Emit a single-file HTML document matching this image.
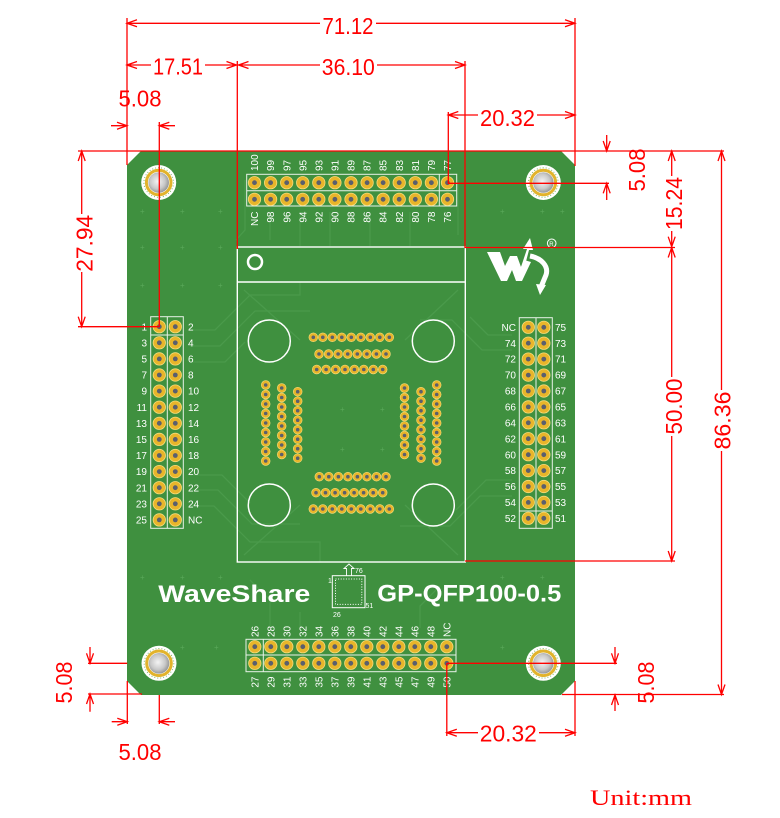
<!DOCTYPE html>
<html><head><meta charset="utf-8"><style>
html,body{margin:0;padding:0;background:#fff;}
svg{display:block;}
.pl{font-family:"Liberation Sans",sans-serif;font-size:10px;fill:#fff;}
.dt{font-family:"Liberation Sans",sans-serif;font-size:23px;fill:#f00;}
</style></head><body>
<svg width="780" height="818" viewBox="0 0 780 818" xmlns="http://www.w3.org/2000/svg">
<defs>
<radialGradient id="hg" cx="0.45" cy="0.45" r="0.6"><stop offset="0" stop-color="#f4f4f4"/><stop offset="0.6" stop-color="#c8c8c8"/><stop offset="1" stop-color="#8c8c8c"/></radialGradient>
<g id="hp"><circle r="6.2" fill="#e8b52a" stroke="#f7dc7c" stroke-width="0.8"/><circle r="2.4" fill="#5a5f6e"/></g>
<g id="sp"><circle r="4.4" fill="#e8b52a" stroke="#f7dc7c" stroke-width="0.6"/><circle r="1.8" fill="#5a5f6e"/></g>
<g id="mh"><circle r="17.5" fill="#fff"/><circle r="14.8" fill="none" stroke="#7fb86c" stroke-width="1" stroke-dasharray="1 2"/><circle r="12.3" fill="none" stroke="#e2b32c" stroke-width="3"/><circle r="10.3" fill="url(#hg)"/></g>
</defs>

<!-- board -->
<polygon points="141,151 561,151 575,165 575,681 561,695 141,695 127,681 127,165" fill="#3f903f"/>

<!-- faint traces -->
<g fill="none" stroke="#4a9a4b" stroke-width="1.3">
<path d="M190,330 H215 L250,295 H300 V282"/>
<path d="M190,346 H220 L255,311 H310"/>
<path d="M190,362 H225 L245,342"/>
<path d="M190,475 H222 L250,503"/>
<path d="M190,490 H218 L252,524 H300"/>
<path d="M190,506 H214 L250,542 H320 V562"/>
<path d="M512,335 H488 L470,317"/>
<path d="M512,350 H482 L452,320 H420"/>
<path d="M512,480 H486 L456,510"/>
<path d="M512,496 H480 L450,526 H400"/>
<path d="M270,212 V240 M300,212 V246 M330,212 V246 M370,212 V246 M410,212 V246"/>
<path d="M270,628 V600 L250,580 M300,628 V612 M420,628 V606 L440,586"/>
<path d="M244,290 L300,340 M458,290 L405,340 M244,555 L300,505 M458,555 L405,505"/>
<path d="M245,180 V230 L236,240 M458,180 V235"/>
</g>
<g fill="#5aa85a" font-family="Liberation Sans,sans-serif" font-size="8">
<text x="140" y="214">+</text><text x="180" y="214">+</text><text x="218" y="214">+</text>
<text x="140" y="250">+</text><text x="180" y="250">+</text><text x="218" y="250">+</text>
<text x="140" y="288">+</text><text x="180" y="288">+</text><text x="218" y="288">+</text>
<text x="500" y="214">+</text><text x="540" y="214">+</text><text x="560" y="214">+</text>
<text x="140" y="580">+</text><text x="180" y="580">+</text><text x="218" y="580">+</text>
<text x="500" y="580">+</text><text x="540" y="580">+</text>
<text x="214" y="650">+</text><text x="180" y="650">+</text><text x="500" y="650">+</text>
<text x="340" y="412">+</text><text x="380" y="412">+</text><text x="340" y="452">+</text><text x="380" y="452">+</text>
</g>

<!-- mounting holes -->
<use href="#mh" x="158.7" y="182.5"/>
<use href="#mh" x="543.3" y="182.5"/>
<use href="#mh" x="159" y="663.3"/>
<use href="#mh" x="543.3" y="663.3"/>

<!-- socket outline -->
<g fill="none" stroke="#fff">
<rect x="237.3" y="247" width="228" height="315" stroke-width="1.4"/>
<line x1="237.3" y1="282" x2="465.3" y2="282" stroke-width="1.4"/>
<circle cx="255" cy="262" r="7" stroke-width="2.5"/>
<circle cx="269.3" cy="341" r="21" stroke-width="1.5"/>
<circle cx="433.3" cy="341" r="21" stroke-width="1.5"/>
<circle cx="269.3" cy="505" r="21" stroke-width="1.5"/>
<circle cx="433.3" cy="505" r="21" stroke-width="1.5"/>
</g>

<!-- socket pads -->
<g>
<use href="#sp" x="313.3" y="337.3"/><use href="#sp" x="322.8" y="337.3"/><use href="#sp" x="332.3" y="337.3"/><use href="#sp" x="341.8" y="337.3"/><use href="#sp" x="351.3" y="337.3"/><use href="#sp" x="360.8" y="337.3"/><use href="#sp" x="370.3" y="337.3"/><use href="#sp" x="379.8" y="337.3"/><use href="#sp" x="389.3" y="337.3"/>
<use href="#sp" x="319" y="354"/><use href="#sp" x="328.6" y="354"/><use href="#sp" x="338.1" y="354"/><use href="#sp" x="347.7" y="354"/><use href="#sp" x="357.3" y="354"/><use href="#sp" x="366.9" y="354"/><use href="#sp" x="376.4" y="354"/><use href="#sp" x="386" y="354"/>
<use href="#sp" x="316.7" y="369.5"/><use href="#sp" x="326.1" y="369.5"/><use href="#sp" x="335.6" y="369.5"/><use href="#sp" x="345" y="369.5"/><use href="#sp" x="354.4" y="369.5"/><use href="#sp" x="363.8" y="369.5"/><use href="#sp" x="373.3" y="369.5"/><use href="#sp" x="382.7" y="369.5"/>
<use href="#sp" x="319.3" y="476.7"/><use href="#sp" x="328.8" y="476.7"/><use href="#sp" x="338.4" y="476.7"/><use href="#sp" x="347.9" y="476.7"/><use href="#sp" x="357.4" y="476.7"/><use href="#sp" x="366.9" y="476.7"/><use href="#sp" x="376.5" y="476.7"/><use href="#sp" x="386" y="476.7"/>
<use href="#sp" x="316" y="492.7"/><use href="#sp" x="325.5" y="492.7"/><use href="#sp" x="335.1" y="492.7"/><use href="#sp" x="344.6" y="492.7"/><use href="#sp" x="354.1" y="492.7"/><use href="#sp" x="363.6" y="492.7"/><use href="#sp" x="373.2" y="492.7"/><use href="#sp" x="382.7" y="492.7"/>
<use href="#sp" x="313.3" y="509"/><use href="#sp" x="322.8" y="509"/><use href="#sp" x="332.3" y="509"/><use href="#sp" x="341.8" y="509"/><use href="#sp" x="351.3" y="509"/><use href="#sp" x="360.8" y="509"/><use href="#sp" x="370.3" y="509"/><use href="#sp" x="379.8" y="509"/><use href="#sp" x="389.3" y="509"/>
<use href="#sp" x="265.7" y="385"/><use href="#sp" x="265.7" y="394.5"/><use href="#sp" x="265.7" y="404"/><use href="#sp" x="265.7" y="413.5"/><use href="#sp" x="265.7" y="423"/><use href="#sp" x="265.7" y="432.5"/><use href="#sp" x="265.7" y="442"/><use href="#sp" x="265.7" y="451.5"/><use href="#sp" x="265.7" y="461"/>
<use href="#sp" x="281.7" y="388"/><use href="#sp" x="281.7" y="397.5"/><use href="#sp" x="281.7" y="407"/><use href="#sp" x="281.7" y="416.5"/><use href="#sp" x="281.7" y="426"/><use href="#sp" x="281.7" y="435.5"/><use href="#sp" x="281.7" y="445"/><use href="#sp" x="281.7" y="454.5"/>
<use href="#sp" x="297.7" y="391.7"/><use href="#sp" x="297.7" y="401.2"/><use href="#sp" x="297.7" y="410.7"/><use href="#sp" x="297.7" y="420.2"/><use href="#sp" x="297.7" y="429.7"/><use href="#sp" x="297.7" y="439.2"/><use href="#sp" x="297.7" y="448.7"/><use href="#sp" x="297.7" y="458.2"/>
<use href="#sp" x="404.5" y="388"/><use href="#sp" x="404.5" y="397.5"/><use href="#sp" x="404.5" y="407"/><use href="#sp" x="404.5" y="416.5"/><use href="#sp" x="404.5" y="426"/><use href="#sp" x="404.5" y="435.5"/><use href="#sp" x="404.5" y="445"/><use href="#sp" x="404.5" y="454.5"/>
<use href="#sp" x="421" y="391.7"/><use href="#sp" x="421" y="401.2"/><use href="#sp" x="421" y="410.7"/><use href="#sp" x="421" y="420.2"/><use href="#sp" x="421" y="429.7"/><use href="#sp" x="421" y="439.2"/><use href="#sp" x="421" y="448.7"/><use href="#sp" x="421" y="458.2"/>
<use href="#sp" x="436.7" y="385"/><use href="#sp" x="436.7" y="394.5"/><use href="#sp" x="436.7" y="404"/><use href="#sp" x="436.7" y="413.5"/><use href="#sp" x="436.7" y="423"/><use href="#sp" x="436.7" y="432.5"/><use href="#sp" x="436.7" y="442"/><use href="#sp" x="436.7" y="451.5"/><use href="#sp" x="436.7" y="461"/>
</g>

<!-- header outlines -->
<g fill="none" stroke="#e8f2e8" stroke-width="1">
<rect x="246.7" y="174.3" width="210" height="31.7"/><line x1="439.3" y1="174.3" x2="439.3" y2="206"/><line x1="246.7" y1="190.7" x2="456.7" y2="190.7"/>
<rect x="246" y="639.3" width="210" height="32.4"/><line x1="263.3" y1="639.3" x2="263.3" y2="671.7"/><line x1="246" y1="655" x2="456" y2="655"/>
<rect x="150.7" y="316.7" width="32.6" height="211.6"/><line x1="167.3" y1="316.7" x2="167.3" y2="528.3"/><line x1="150.7" y1="335" x2="183.3" y2="335"/>
<rect x="519.3" y="317.7" width="33" height="210.6"/><line x1="536" y1="317.7" x2="536" y2="528.3"/><line x1="519.3" y1="511" x2="552.3" y2="511"/>
</g>

<!-- top header pins -->
<g>
<use href="#hp" x="254.5" y="182.7"/><use href="#hp" x="270.6" y="182.7"/><use href="#hp" x="286.7" y="182.7"/><use href="#hp" x="302.7" y="182.7"/><use href="#hp" x="318.8" y="182.7"/><use href="#hp" x="334.9" y="182.7"/><use href="#hp" x="351" y="182.7"/><use href="#hp" x="367.1" y="182.7"/><use href="#hp" x="383.1" y="182.7"/><use href="#hp" x="399.2" y="182.7"/><use href="#hp" x="415.3" y="182.7"/><use href="#hp" x="431.4" y="182.7"/><use href="#hp" x="447.5" y="182.7"/>
<use href="#hp" x="254.5" y="199.3"/><use href="#hp" x="270.6" y="199.3"/><use href="#hp" x="286.7" y="199.3"/><use href="#hp" x="302.7" y="199.3"/><use href="#hp" x="318.8" y="199.3"/><use href="#hp" x="334.9" y="199.3"/><use href="#hp" x="351" y="199.3"/><use href="#hp" x="367.1" y="199.3"/><use href="#hp" x="383.1" y="199.3"/><use href="#hp" x="399.2" y="199.3"/><use href="#hp" x="415.3" y="199.3"/><use href="#hp" x="431.4" y="199.3"/><use href="#hp" x="447.5" y="199.3"/>
</g>
<!-- bottom header pins -->
<g>
<use href="#hp" x="254.8" y="646.7"/><use href="#hp" x="270.8" y="646.7"/><use href="#hp" x="286.8" y="646.7"/><use href="#hp" x="302.8" y="646.7"/><use href="#hp" x="318.8" y="646.7"/><use href="#hp" x="334.8" y="646.7"/><use href="#hp" x="350.8" y="646.7"/><use href="#hp" x="366.8" y="646.7"/><use href="#hp" x="382.8" y="646.7"/><use href="#hp" x="398.8" y="646.7"/><use href="#hp" x="414.8" y="646.7"/><use href="#hp" x="430.8" y="646.7"/><use href="#hp" x="446.8" y="646.7"/>
<use href="#hp" x="254.8" y="663.3"/><use href="#hp" x="270.8" y="663.3"/><use href="#hp" x="286.8" y="663.3"/><use href="#hp" x="302.8" y="663.3"/><use href="#hp" x="318.8" y="663.3"/><use href="#hp" x="334.8" y="663.3"/><use href="#hp" x="350.8" y="663.3"/><use href="#hp" x="366.8" y="663.3"/><use href="#hp" x="382.8" y="663.3"/><use href="#hp" x="398.8" y="663.3"/><use href="#hp" x="414.8" y="663.3"/><use href="#hp" x="430.8" y="663.3"/><use href="#hp" x="446.8" y="663.3"/>
</g>
<!-- left header pins -->
<g>
<use href="#hp" x="159.3" y="326.7"/><use href="#hp" x="159.3" y="342.8"/><use href="#hp" x="159.3" y="358.9"/><use href="#hp" x="159.3" y="375"/><use href="#hp" x="159.3" y="391.1"/><use href="#hp" x="159.3" y="407.2"/><use href="#hp" x="159.3" y="423.3"/><use href="#hp" x="159.3" y="439.4"/><use href="#hp" x="159.3" y="455.5"/><use href="#hp" x="159.3" y="471.6"/><use href="#hp" x="159.3" y="487.7"/><use href="#hp" x="159.3" y="503.8"/><use href="#hp" x="159.3" y="519.9"/>
<use href="#hp" x="175.3" y="326.7"/><use href="#hp" x="175.3" y="342.8"/><use href="#hp" x="175.3" y="358.9"/><use href="#hp" x="175.3" y="375"/><use href="#hp" x="175.3" y="391.1"/><use href="#hp" x="175.3" y="407.2"/><use href="#hp" x="175.3" y="423.3"/><use href="#hp" x="175.3" y="439.4"/><use href="#hp" x="175.3" y="455.5"/><use href="#hp" x="175.3" y="471.6"/><use href="#hp" x="175.3" y="487.7"/><use href="#hp" x="175.3" y="503.8"/><use href="#hp" x="175.3" y="519.9"/>
</g>
<!-- right header pins -->
<g>
<use href="#hp" x="528.3" y="327.3"/><use href="#hp" x="528.3" y="343.2"/><use href="#hp" x="528.3" y="359.1"/><use href="#hp" x="528.3" y="375.1"/><use href="#hp" x="528.3" y="391"/><use href="#hp" x="528.3" y="406.9"/><use href="#hp" x="528.3" y="422.8"/><use href="#hp" x="528.3" y="438.7"/><use href="#hp" x="528.3" y="454.7"/><use href="#hp" x="528.3" y="470.6"/><use href="#hp" x="528.3" y="486.5"/><use href="#hp" x="528.3" y="502.4"/><use href="#hp" x="528.3" y="518.3"/>
<use href="#hp" x="543.8" y="327.3"/><use href="#hp" x="543.8" y="343.2"/><use href="#hp" x="543.8" y="359.1"/><use href="#hp" x="543.8" y="375.1"/><use href="#hp" x="543.8" y="391"/><use href="#hp" x="543.8" y="406.9"/><use href="#hp" x="543.8" y="422.8"/><use href="#hp" x="543.8" y="438.7"/><use href="#hp" x="543.8" y="454.7"/><use href="#hp" x="543.8" y="470.6"/><use href="#hp" x="543.8" y="486.5"/><use href="#hp" x="543.8" y="502.4"/><use href="#hp" x="543.8" y="518.3"/>
</g>

<!-- left header labels -->
<g class="pl" text-anchor="end">
<text x="147" y="330.3">1</text><text x="147" y="346.4">3</text><text x="147" y="362.5">5</text><text x="147" y="378.6">7</text><text x="147" y="394.7">9</text><text x="147" y="410.8">11</text><text x="147" y="426.9">13</text><text x="147" y="443">15</text><text x="147" y="459.1">17</text><text x="147" y="475.2">19</text><text x="147" y="491.3">21</text><text x="147" y="507.4">23</text><text x="147" y="523.5">25</text>
</g>
<g class="pl">
<text x="188" y="330.3">2</text><text x="188" y="346.4">4</text><text x="188" y="362.5">6</text><text x="188" y="378.6">8</text><text x="188" y="394.7">10</text><text x="188" y="410.8">12</text><text x="188" y="426.9">14</text><text x="188" y="443">16</text><text x="188" y="459.1">18</text><text x="188" y="475.2">20</text><text x="188" y="491.3">22</text><text x="188" y="507.4">24</text><text x="188" y="523.5">NC</text>
</g>
<!-- right header labels -->
<g class="pl" text-anchor="end">
<text x="516" y="330.9">NC</text><text x="516" y="346.8">74</text><text x="516" y="362.7">72</text><text x="516" y="378.7">70</text><text x="516" y="394.6">68</text><text x="516" y="410.5">66</text><text x="516" y="426.4">64</text><text x="516" y="442.3">62</text><text x="516" y="458.3">60</text><text x="516" y="474.2">58</text><text x="516" y="490.1">56</text><text x="516" y="506">54</text><text x="516" y="521.9">52</text>
</g>
<g class="pl">
<text x="555" y="330.9">75</text><text x="555" y="346.8">73</text><text x="555" y="362.7">71</text><text x="555" y="378.7">69</text><text x="555" y="394.6">67</text><text x="555" y="410.5">65</text><text x="555" y="426.4">63</text><text x="555" y="442.3">61</text><text x="555" y="458.3">59</text><text x="555" y="474.2">57</text><text x="555" y="490.1">55</text><text x="555" y="506">53</text><text x="555" y="521.9">51</text>
</g>
<!-- top header labels (rotated) -->
<g class="pl">
<text transform="translate(254.5,171) rotate(-90)" y="3.6">100</text>
<text transform="translate(270.6,171) rotate(-90)" y="3.6">99</text>
<text transform="translate(286.7,171) rotate(-90)" y="3.6">97</text>
<text transform="translate(302.7,171) rotate(-90)" y="3.6">95</text>
<text transform="translate(318.8,171) rotate(-90)" y="3.6">93</text>
<text transform="translate(334.9,171) rotate(-90)" y="3.6">91</text>
<text transform="translate(351,171) rotate(-90)" y="3.6">89</text>
<text transform="translate(367.1,171) rotate(-90)" y="3.6">87</text>
<text transform="translate(383.1,171) rotate(-90)" y="3.6">85</text>
<text transform="translate(399.2,171) rotate(-90)" y="3.6">83</text>
<text transform="translate(415.3,171) rotate(-90)" y="3.6">81</text>
<text transform="translate(431.4,171) rotate(-90)" y="3.6">79</text>
<text transform="translate(447.5,171) rotate(-90)" y="3.6">77</text>
</g>
<g class="pl" text-anchor="end">
<text transform="translate(254.5,211.5) rotate(-90)" y="3.6">NC</text>
<text transform="translate(270.6,211.5) rotate(-90)" y="3.6">98</text>
<text transform="translate(286.7,211.5) rotate(-90)" y="3.6">96</text>
<text transform="translate(302.7,211.5) rotate(-90)" y="3.6">94</text>
<text transform="translate(318.8,211.5) rotate(-90)" y="3.6">92</text>
<text transform="translate(334.9,211.5) rotate(-90)" y="3.6">90</text>
<text transform="translate(351,211.5) rotate(-90)" y="3.6">88</text>
<text transform="translate(367.1,211.5) rotate(-90)" y="3.6">86</text>
<text transform="translate(383.1,211.5) rotate(-90)" y="3.6">84</text>
<text transform="translate(399.2,211.5) rotate(-90)" y="3.6">82</text>
<text transform="translate(415.3,211.5) rotate(-90)" y="3.6">80</text>
<text transform="translate(431.4,211.5) rotate(-90)" y="3.6">78</text>
<text transform="translate(447.5,211.5) rotate(-90)" y="3.6">76</text>
</g>
<!-- bottom header labels -->
<g class="pl">
<text transform="translate(254.8,637) rotate(-90)" y="3.6">26</text>
<text transform="translate(270.8,637) rotate(-90)" y="3.6">28</text>
<text transform="translate(286.8,637) rotate(-90)" y="3.6">30</text>
<text transform="translate(302.8,637) rotate(-90)" y="3.6">32</text>
<text transform="translate(318.8,637) rotate(-90)" y="3.6">34</text>
<text transform="translate(334.8,637) rotate(-90)" y="3.6">36</text>
<text transform="translate(350.8,637) rotate(-90)" y="3.6">38</text>
<text transform="translate(366.8,637) rotate(-90)" y="3.6">40</text>
<text transform="translate(382.8,637) rotate(-90)" y="3.6">42</text>
<text transform="translate(398.8,637) rotate(-90)" y="3.6">44</text>
<text transform="translate(414.8,637) rotate(-90)" y="3.6">46</text>
<text transform="translate(430.8,637) rotate(-90)" y="3.6">48</text>
<text transform="translate(446.8,637) rotate(-90)" y="3.6">NC</text>
</g>
<g class="pl" text-anchor="end">
<text transform="translate(254.8,676.5) rotate(-90)" y="3.6">27</text>
<text transform="translate(270.8,676.5) rotate(-90)" y="3.6">29</text>
<text transform="translate(286.8,676.5) rotate(-90)" y="3.6">31</text>
<text transform="translate(302.8,676.5) rotate(-90)" y="3.6">33</text>
<text transform="translate(318.8,676.5) rotate(-90)" y="3.6">35</text>
<text transform="translate(334.8,676.5) rotate(-90)" y="3.6">37</text>
<text transform="translate(350.8,676.5) rotate(-90)" y="3.6">39</text>
<text transform="translate(366.8,676.5) rotate(-90)" y="3.6">41</text>
<text transform="translate(382.8,676.5) rotate(-90)" y="3.6">43</text>
<text transform="translate(398.8,676.5) rotate(-90)" y="3.6">45</text>
<text transform="translate(414.8,676.5) rotate(-90)" y="3.6">47</text>
<text transform="translate(430.8,676.5) rotate(-90)" y="3.6">49</text>
<text transform="translate(446.8,676.5) rotate(-90)" y="3.6">50</text>
</g>

<!-- logo -->
<g fill="#fff">
<polygon points="487,252 500,252 505,266 510,256 517,256 521,267 524,260 531,262 522,281 516,281 512,270 507,281 501,281"/>
<polygon points="520,270 527,249 523,249 530,238 533,250 529,250 523,273"/>
<polygon points="536,284 546,285 540,295"/>
</g>
<g fill="none" stroke="#fff">
<path d="M530,256 C541,258 549,266 546,275 L541,287" stroke-width="5"/>
<circle cx="551.7" cy="243.3" r="4.3" stroke-width="1"/>
</g>
<text x="549.3" y="246" font-family="Liberation Sans,sans-serif" font-size="6" fill="#fff">R</text>

<!-- board titles -->
<text x="158.3" y="602" font-family="Liberation Sans,sans-serif" font-weight="bold" font-size="24" fill="#fff" textLength="152" lengthAdjust="spacingAndGlyphs">WaveShare</text>
<text x="377.3" y="601.5" font-family="Liberation Sans,sans-serif" font-weight="bold" font-size="24" fill="#fff" textLength="184" lengthAdjust="spacingAndGlyphs">GP-QFP100-0.5</text>
<!-- qfp icon -->
<g fill="none" stroke="#fff">
<rect x="332.3" y="575.7" width="32.7" height="32" stroke-width="1"/>
<rect x="335.5" y="579" width="26.3" height="25.4" stroke-width="1" stroke-dasharray="1 1.6"/>
<path d="M346.5,575.5 V568.5 H344 L349,564 L354,568.5 H351.5 V575.5" stroke-width="0.9"/>
</g>
<g fill="#fff" font-family="Liberation Sans,sans-serif" font-size="7">
<text x="355" y="573">76</text><text x="328" y="583">1</text><text x="365.5" y="608">51</text><text x="333" y="617">26</text>
</g>

<!-- red dimensions -->
<g fill="none" stroke="#f00" stroke-width="1.3">
<path d="M127,18 V165 M575,18 V166 M237.3,61 V249 M465,61 V247.5 H675 M448.3,112 V183.3 H609 M159.3,122 V326.7 H78 M78,151 H724 M465,561 H675 M562,694.5 H724 M446.8,663.3 H617 M446.8,663.3 V736 M575,681 V736 M88,663.3 H127.3 M88,694 H142 M127.3,681 V724 M159.3,695 V724"/>
<path d="M127,23.3 H320 M376,23.3 H575 M137,19.8 L127,23.3 L137,26.8 M565,19.8 L575,23.3 L565,26.8"/>
<path d="M127,65 H151 M205,65 H237 M137,61.5 L127,65 L137,68.5 M226.5,61.5 L236.5,65 L226.5,68.5"/>
<path d="M238,65 H320 M377,65 H465 M248.5,61.5 L238.5,65 L248.5,68.5 M455,61.5 L465,65 L455,68.5"/>
<path d="M448.3,115 H478 M537,115 H575 M458.3,111.5 L448.3,115 L458.3,118.5 M565,111.5 L575,115 L565,118.5"/>
<path d="M111,125.7 H127 M117,122.2 L127,125.7 L117,129.2 M175,125.7 H159.3 M169.3,122.2 L159.3,125.7 L169.3,129.2"/>
<path d="M81.7,151 V214 M81.7,272 V326.7 M78.2,161 L81.7,151 L85.2,161 M78.2,316.7 L81.7,326.7 L85.2,316.7"/>
<path d="M606.7,135 V151 M603.2,141 L606.7,151 L610.2,141 M606.7,200 V183.3 M603.2,193.3 L606.7,183.3 L610.2,193.3"/>
<path d="M671.7,151 V176 M671.7,231 V246.7 M668.2,161 L671.7,151 L675.2,161 M668.2,236.7 L671.7,246.7 L675.2,236.7"/>
<path d="M671.7,247.5 V377 M671.7,436 V561 M668.2,257.5 L671.7,247.5 L675.2,257.5 M668.2,551 L671.7,561 L675.2,551"/>
<path d="M721.5,151 V390 M721.5,451 V694.5 M718,161 L721.5,151 L725,161 M718,684.5 L721.5,694.5 L725,684.5"/>
<path d="M615,647 V663.3 M611.5,653.3 L615,663.3 L618.5,653.3 M615,711 V695 M611.5,705 L615,695 L618.5,705"/>
<path d="M446.8,732.7 H478 M539,732.7 H575 M456.8,729.2 L446.8,732.7 L456.8,736.2 M565,729.2 L575,732.7 L565,736.2"/>
<path d="M90,647 V663.3 M86.5,653.3 L90,663.3 L93.5,653.3 M90,711.7 V694 M86.5,704 L90,694 L93.5,704"/>
<path d="M111.7,721.7 H127.3 M117.3,718.2 L127.3,721.7 L117.3,725.2 M175,721.7 H159.3 M169.3,718.2 L159.3,721.7 L169.3,725.2"/>
</g>

<!-- red dimension texts -->
<g class="dt" text-anchor="middle">
<text x="348" y="34" textLength="51" lengthAdjust="spacingAndGlyphs">71.12</text>
<text x="178" y="74.5" textLength="50" lengthAdjust="spacingAndGlyphs">17.51</text>
<text x="348.3" y="75" textLength="53" lengthAdjust="spacingAndGlyphs">36.10</text>
<text x="140" y="106.7" textLength="43" lengthAdjust="spacingAndGlyphs">5.08</text>
<text x="507.5" y="126" textLength="55" lengthAdjust="spacingAndGlyphs">20.32</text>
<text x="508.3" y="741.7" textLength="57" lengthAdjust="spacingAndGlyphs">20.32</text>
<text x="140" y="760" textLength="43" lengthAdjust="spacingAndGlyphs">5.08</text>
<text transform="translate(84.2,243.3) rotate(-90)" x="0" y="8.2" textLength="57" lengthAdjust="spacingAndGlyphs">27.94</text>
<text transform="translate(637,170) rotate(-90)" x="0" y="8.2" textLength="43" lengthAdjust="spacingAndGlyphs">5.08</text>
<text transform="translate(673.8,203.5) rotate(-90)" x="0" y="8.2" textLength="53" lengthAdjust="spacingAndGlyphs">15.24</text>
<text transform="translate(673.8,406.5) rotate(-90)" x="0" y="8.2" textLength="56" lengthAdjust="spacingAndGlyphs">50.00</text>
<text transform="translate(722.5,420.5) rotate(-90)" x="0" y="8.2" textLength="58" lengthAdjust="spacingAndGlyphs">86.36</text>
<text transform="translate(64,682.5) rotate(-90)" x="0" y="8.2" textLength="42" lengthAdjust="spacingAndGlyphs">5.08</text>
<text transform="translate(646,682.5) rotate(-90)" x="0" y="8.2" textLength="42" lengthAdjust="spacingAndGlyphs">5.08</text>
</g>
<text x="590" y="805" font-family="Liberation Serif,serif" font-size="22" fill="#f00" textLength="102" lengthAdjust="spacingAndGlyphs">Unit:mm</text>
</svg>
</body></html>
